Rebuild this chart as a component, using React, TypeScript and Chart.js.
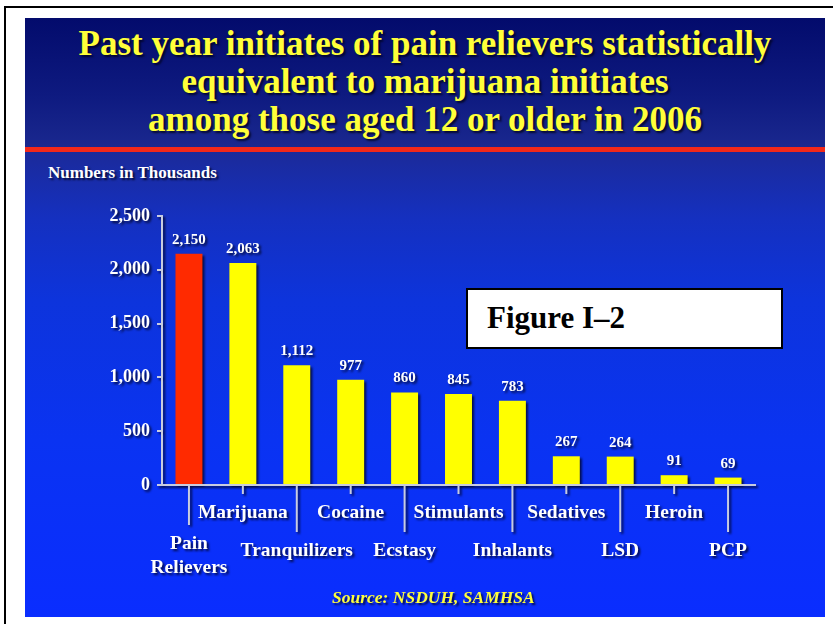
import React, { useEffect, useRef } from 'react';
import { Chart, registerables } from 'chart.js';

Chart.register(...registerables);

// ---------- data ----------
const categories: string[][] = [
  ['Pain', 'Relievers'],
  ['Marijuana'],
  ['Tranquilizers'],
  ['Cocaine'],
  ['Ecstasy'],
  ['Stimulants'],
  ['Inhalants'],
  ['Sedatives'],
  ['LSD'],
  ['Heroin'],
  ['PCP'],
];
const values: number[] = [2150, 2063, 1112, 977, 860, 845, 783, 267, 264, 91, 69];
const yMin = 0;
const yMax = 2500;
const yStep = 500;

const titleLines: string[] = [
  'Past year initiates of pain relievers statistically',
  'equivalent to marijuana initiates',
  'among those aged 12 or older in 2006',
];
const unitLabel = 'Numbers in Thousands';
const figureLabel = 'Figure I\u20132';
const sourceLabel = 'Source: NSDUH, SAMHSA';

// ---------- style ----------
const SERIF = '"Liberation Serif", "Times New Roman", Times, serif';
const RED = '#ff2a00';
const YELLOW = '#ffff00';
const AXIS = '#c8cce0';
const fmt = (v: number) => v.toLocaleString('en-US');

const labelPlugin = {
  id: 'slideLabels',
  afterDatasetsDraw(chart: any) {
    const ctx = chart.ctx as CanvasRenderingContext2D;
    const meta = chart.getDatasetMeta(0);
    ctx.save();
    // value labels above bars
    ctx.fillStyle = '#ffffff';
    ctx.font = `bold 15px ${SERIF}`;
    ctx.textAlign = 'center';
    ctx.textBaseline = 'alphabetic';
    meta.data.forEach((bar: any, i: number) => {
      ctx.fillText(fmt(values[i]), bar.x, bar.y - 10);
    });
    // staggered category ticks & labels
    const xs = chart.scales.x;
    const bottom = chart.chartArea.bottom;
    ctx.font = `bold 19.5px ${SERIF}`;
    categories.forEach((lines, i) => {
      const x = xs.getPixelForValue(i);
      const lower = i % 2 === 0;
      let base = lower ? bottom + 71 : bottom + 33;
      if (lines.length > 1) base -= 7;
      const tickEnd = base - 24;
      ctx.strokeStyle = AXIS;
      ctx.lineWidth = 2;
      ctx.beginPath();
      ctx.moveTo(x, bottom + 1);
      ctx.lineTo(x, tickEnd);
      ctx.stroke();
      ctx.fillStyle = '#ffffff';
      lines.forEach((ln, k) => {
        ctx.fillText(ln, x, base + k * 24);
      });
    });
    ctx.restore();
  },
};

function BarChart() {
  const ref = useRef<HTMLCanvasElement | null>(null);
  useEffect(() => {
    if (!ref.current) return;
    const chart = new Chart(ref.current, {
      type: 'bar',
      data: {
        labels: categories.map((l) => l.join(' ')),
        datasets: [
          {
            data: values,
            backgroundColor: (c: any) => (c.dataIndex === 0 ? RED : YELLOW),
            borderWidth: 0,
            barPercentage: 0.5,
            categoryPercentage: 1.0,
          },
        ],
      },
      options: {
        responsive: false,
        animation: false,
        devicePixelRatio: 1,
        layout: { padding: { top: 26, right: 70, bottom: 0, left: 0 } },
        plugins: {
          legend: { display: false },
          tooltip: { enabled: false },
          title: { display: false },
        },
        scales: {
          x: {
            type: 'category',
            offset: true,
            grid: { display: false, drawTicks: false },
            border: { display: true, color: AXIS, width: 2 },
            ticks: { display: false },
            afterFit: (s: any) => {
              s.height = 105;
            },
          },
          y: {
            min: yMin,
            max: yMax,
            grid: {
              display: true,
              drawOnChartArea: false,
              drawTicks: true,
              tickLength: 5,
              color: AXIS,
              lineWidth: 2,
            },
            border: { display: true, color: AXIS, width: 2 },
            ticks: {
              stepSize: yStep,
              padding: 7,
              color: '#ffffff',
              font: { family: SERIF, size: 18, weight: 'bold' },
              callback: (v: any) => fmt(Number(v)),
            },
            afterFit: (s: any) => {
              s.width = 137;
            },
          },
        },
      },
      plugins: [labelPlugin],
    } as any);
    return () => chart.destroy();
  }, []);
  return (
    <canvas
      ref={ref}
      width={800}
      height={400}
      style={{
        position: 'absolute',
        left: 25,
        top: 190,
        width: 800,
        height: 400,
        filter: 'drop-shadow(2px 2px 1px rgba(0,0,20,0.75))',
      }}
    />
  );
}

export default function App() {
  useEffect(() => {
    document.body.style.margin = '0';
  }, []);
  const shadow = '2px 2px 2px rgba(0,0,20,0.75)';
  return (
    <div
      style={{
        position: 'absolute',
        left: 0,
        top: 0,
        width: 833,
        height: 624,
        background: '#ffffff',
        overflow: 'hidden',
        fontFamily: SERIF,
      }}
    >
      <div style={{ position: 'absolute', left: 4, top: 6, width: 829, height: 2, background: '#000' }} />
      <div style={{ position: 'absolute', left: 4, top: 6, width: 2, height: 618, background: '#000' }} />
      <div
        style={{
          position: 'absolute',
          left: 25,
          top: 18,
          width: 800,
          height: 129,
          background: 'linear-gradient(#030b6c, #0e1a80 60%, #1a288f)',
        }}
      />
      <div style={{ position: 'absolute', left: 25, top: 147, width: 800, height: 5, background: '#f2281a' }} />
      <div
        style={{
          position: 'absolute',
          left: 25,
          top: 152,
          width: 800,
          height: 465,
          background:
            'linear-gradient(#1b2a9a 0%, #1530bf 14%, #0d34dc 32%, #0a33f2 62%, #0a2dff 100%)',
        }}
      />
      <div
        style={{
          position: 'absolute',
          left: 25,
          top: 25,
          width: 800,
          textAlign: 'center',
          fontSize: 35,
          lineHeight: '38px',
          fontWeight: 'bold',
          color: '#ffff3a',
          textShadow: shadow,
          whiteSpace: 'nowrap',
        }}
      >
        {titleLines.map((t) => (
          <div key={t}>{t}</div>
        ))}
      </div>
      <div
        style={{
          position: 'absolute',
          left: 48,
          top: 163.5,
          fontSize: 17,
          lineHeight: '17px',
          fontWeight: 'bold',
          color: '#ffffff',
          textShadow: shadow,
          whiteSpace: 'nowrap',
        }}
      >
        {unitLabel}
      </div>
      <BarChart />
      <div
        style={{
          position: 'absolute',
          left: 466,
          top: 288,
          width: 317,
          height: 61,
          boxSizing: 'border-box',
          border: '2px solid #000',
          background: '#ffffff',
        }}
      />
      <div
        style={{
          position: 'absolute',
          left: 487,
          top: 302,
          fontSize: 31,
          lineHeight: '31px',
          fontWeight: 'bold',
          color: '#000',
          whiteSpace: 'nowrap',
        }}
      >
        {figureLabel}
      </div>
      <div
        style={{
          position: 'absolute',
          left: 332,
          top: 588,
          fontSize: 17.5,
          lineHeight: '18px',
          fontWeight: 'bold',
          fontStyle: 'italic',
          color: '#ffff3a',
          textShadow: shadow,
          whiteSpace: 'nowrap',
        }}
      >
        {sourceLabel}
      </div>
    </div>
  );
}
